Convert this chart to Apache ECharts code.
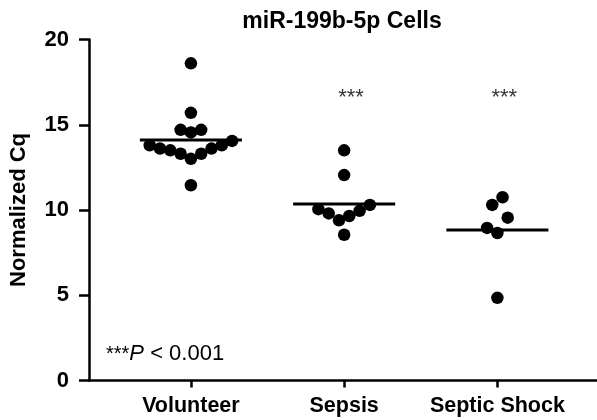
<!DOCTYPE html>
<html><head><meta charset="utf-8">
<script src="https://cdn.jsdelivr.net/npm/echarts@6/dist/echarts.min.js"></script>
<style>html,body{margin:0;padding:0;background:#fff}#c{width:597px;height:420px}</style>
</head><body><div id="c"></div>
<script>
// ---- data ----
const categories = ['Volunteer', 'Sepsis', 'Septic Shock'];
const volunteer = [18.6, 15.7, 14.7, 14.55, 14.7, 13.8, 13.6, 13.5, 13.3, 13.0, 13.3, 13.6, 13.8, 14.05, 11.45];
const sepsis = [13.5, 12.05, 10.3, 9.65, 9.95, 9.8, 9.4, 10.05, 8.55];
const septicShock = [10.3, 10.75, 9.55, 8.95, 8.65, 4.85];
const groupMeans = [14.1, 10.35, 8.82];
const significance = ['', '***', '***'];
const yTicks = [0, 5, 10, 15, 20];
const titleText = 'miR-199b-5p Cells';
const yAxisTitle = 'Normalized Cq';

const groups = [volunteer, sepsis, septicShock];
const FONT = '"Liberation Sans", Arial, Helvetica, sans-serif';

const chart = echarts.init(document.getElementById('c'), null, {renderer: 'canvas'});

const base = {
  animation: false,
  backgroundColor: '#fff',
  title: {
    text: titleText, left: 337, top: 5, textAlign: 'center',
    textStyle: {fontFamily: FONT, fontWeight: 'bold', fontSize: 23, color: '#000'}
  },
  grid: {left: 88, right: 0, top: 39.5, bottom: 39.5, containLabel: false},
  xAxis: {
    type: 'value', min: 0.335, max: 3.65,
    splitLine: {show: false},
    axisLine: {show: true, lineStyle: {color: '#000', width: 2.5}},
    axisTick: {show: true, customValues: [1, 2, 3], length: 7, lineStyle: {color: '#000', width: 2.5}},
    axisLabel: {
      show: true, customValues: [1, 2, 3], margin: 15,
      formatter: v => categories[Math.round(v) - 1] || '',
      fontFamily: FONT, fontWeight: 'bold', fontSize: 21.5, color: '#000'
    }
  },
  yAxis: {
    type: 'value', min: yTicks[0], max: yTicks[yTicks.length - 1], interval: 5,
    splitLine: {show: false},
    axisLine: {show: true, onZero: false, lineStyle: {color: '#000', width: 2.5}},
    axisTick: {show: true, length: 10, lineStyle: {color: '#000', width: 2.5}},
    axisLabel: {margin: 20, fontFamily: FONT, fontWeight: 'bold', fontSize: 22, color: '#000'},
    name: yAxisTitle, nameLocation: 'middle', nameRotate: 90, nameGap: 59,
    nameTextStyle: {fontFamily: FONT, fontWeight: 'bold', fontSize: 22, color: '#000'}
  },
  graphic: [{
    type: 'text', left: 106, top: 343,
    style: {
      rich: {
        s: {fontFamily: FONT, fontSize: 20, fill: '#000'},
        p: {fontFamily: FONT, fontSize: 22, fontStyle: 'italic', fill: '#000'},
        n: {fontFamily: FONT, fontSize: 22, fill: '#000'}
      },
      text: '{s|***}{p|P}{n| < 0.001}'
    }
  }],
  series: []
};
chart.setOption(base);

// ---- row-based dot layout computed from the values (no typed coordinates) ----
const o = chart.convertToPixel({xAxisIndex: 0, yAxisIndex: 0}, [1, 0]);
const o2 = chart.convertToPixel({xAxisIndex: 0, yAxisIndex: 0}, [2, 1]);
const pxX = o2[0] - o[0];
const pxY = o[1] - o2[1];
const STEP = 10.3, GAP = 13, SPAN = 22;

function swarm(values) {
  const idx = values.map((v, i) => i).sort((a, b) => values[a] - values[b]);
  const rows = []; let cur = null;
  idx.forEach(i => {
    const y = values[i] * pxY;
    if (cur && (y - cur.last) < GAP && (y - cur.start) <= SPAN) {
      cur.items.push(i); cur.last = y;
    } else {
      cur = {start: y, last: y, items: [i]}; rows.push(cur);
    }
  });
  const off = new Array(values.length).fill(0);
  rows.forEach(r => {
    const n = r.items.length;
    r.items.forEach((i, j) => {
      let k;
      if (n % 2 === 1) k = j === 0 ? 0 : (j % 2 === 1 ? -Math.ceil(j / 2) : Math.ceil(j / 2));
      else k = (j % 2 === 0 ? -1 : 1) * (Math.floor(j / 2) + 0.5);
      off[i] = k * STEP / pxX;
    });
  });
  return off;
}

const series = groups.map((vals, gi) => {
  const off = swarm(vals);
  return {
    type: 'scatter', name: categories[gi], symbol: 'circle', symbolSize: 12.5,
    itemStyle: {color: '#000', opacity: 1}, z: 3,
    data: vals.map((v, i) => [gi + 1 + off[i], v])
  };
});
series.push({
  type: 'custom', name: 'mean', z: 4,
  renderItem: (params, api) => {
    const x = api.value(0), m = api.value(1);
    const a = api.coord([x - 0.333, m]), b = api.coord([x + 0.333, m]);
    return {type: 'line', shape: {x1: a[0], y1: a[1], x2: b[0], y2: b[1]}, style: {stroke: '#000', lineWidth: 3}};
  },
  data: groupMeans.map((m, i) => [i + 1, m])
});
series.push({
  type: 'scatter', name: 'sig', symbolSize: 0, silent: true,
  label: {show: true, position: 'inside', formatter: p => significance[p.dataIndex],
    fontFamily: FONT, fontSize: 22, color: '#000'},
  data: significance.map((s, i) => [i + 1.045, 16.6])
});
chart.setOption({series});
</script></body></html>
